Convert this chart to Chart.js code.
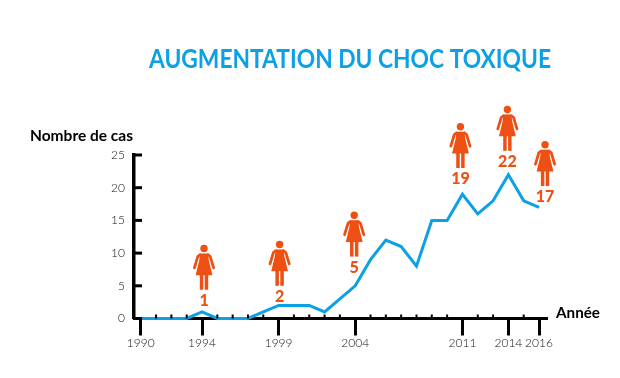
<!DOCTYPE html>
<html lang="fr">
<head>
  <meta charset="UTF-8" />
  <title>Augmentation du choc toxique</title>
  <script src="https://cdn.jsdelivr.net/npm/chart.js"></script>
  <style>
    body { margin: 0; background: #fff; }
    canvas { display: block; }
  </style>
</head>
<body>
  <canvas id="chocChart" width="620" height="378"></canvas>

  <script>
    const years = [1990, 1991, 1992, 1993, 1994, 1995, 1996, 1997, 1998, 1999, 2000, 2001, 2002,
      2003, 2004, 2005, 2006, 2007, 2008, 2009, 2010, 2011, 2012, 2013, 2014, 2015, 2016];
    const cases = [0, 0, 0, 0, 1, 0, 0, 0, 1, 2, 2, 2, 1, 3, 5, 9, 12, 11, 8, 15, 15, 19, 16, 18, 22, 18, 17];
    const tickYears = [1990, 1994, 1999, 2004, 2011, 2014, 2016];
    const calloutYears = [1994, 1999, 2004, 2011, 2014, 2016];
    const calloutCounts = [1, 2, 5, 19, 22, 17];

    const BLUE = '#0ca0e4';
    const ORANGE = '#ee4f12';
    const INK = '#000';

    // little woman pictogram, origin at the centre of the head
    function drawWoman(ctx, x, y) {
      ctx.save();
      ctx.translate(x, y);
      ctx.fillStyle = ORANGE;
      ctx.strokeStyle = ORANGE;
      ctx.beginPath();
      ctx.arc(0, 0, 3.7, 0, Math.PI * 2);
      ctx.fill();
      ctx.beginPath();
      ctx.moveTo(-4, 5);
      ctx.lineTo(4, 5);
      ctx.lineTo(4.8, 12);
      ctx.lineTo(8.4, 26.7);
      ctx.lineTo(-8.4, 26.7);
      ctx.lineTo(-4.8, 12);
      ctx.closePath();
      ctx.fill();
      ctx.fillRect(-4.2, 26, 3.5, 15.3);
      ctx.fillRect(0.7, 26, 3.5, 15.3);
      ctx.lineWidth = 2.8;
      ctx.lineCap = 'round';
      [-1, 1].forEach(side => {
        ctx.beginPath();
        ctx.moveTo(side * 4, 6.2);
        ctx.lineTo(side * 6.2, 8);
        ctx.lineTo(side * 9.6, 19.4);
        ctx.stroke();
      });
      ctx.restore();
    }

    const annotations = {
      id: 'annotations',
      afterDatasetsDraw(chart) {
        const { ctx, scales: { x, y }, chartArea } = chart;

        // axis ticks that the scales cannot draw inward
        ctx.save();
        ctx.fillStyle = INK;
        y.ticks.forEach(t => {
          ctx.fillRect(chartArea.left, y.getPixelForValue(t.value) - 1.5, 8, 3);
        });
        years.forEach(yr => {
          if (!tickYears.includes(yr)) {
            ctx.fillRect(x.getPixelForValue(yr) - 1, chartArea.bottom - 4, 2, 4);
          }
        });

        // pictograms and their counts, floated above the curve
        const shiftX = [2, 1, -1, -2, -1, 6];
        const lift = [11, 8.4, 18, 15, 12.6, 10];
        ctx.textAlign = 'center';
        ctx.textBaseline = 'middle';
        calloutYears.forEach((yr, i) => {
          const px = x.getPixelForValue(yr) + shiftX[i];
          const py = y.getPixelForValue(cases[years.indexOf(yr)]) - lift[i];
          drawWoman(ctx, px, py - 52.5);
          ctx.fillStyle = ORANGE;
          ctx.font = '900 16px Lato';
          ctx.fillText(String(calloutCounts[i]), px, py);
        });

        ctx.textAlign = 'left';
        ctx.fillStyle = INK;
        ctx.font = 'bold 15.5px Lato';
        ctx.fillText('Nombre de cas', 30, 136, 103);
        ctx.fillText('Année', 556, 313, 44);

        ctx.fillStyle = BLUE;
        ctx.font = 'bold 26px Lato';
        ctx.fillText('AUGMENTATION DU CHOC TOXIQUE', 149, 60, 402);
        ctx.restore();
      }
    };

    new Chart(document.getElementById('chocChart'), {
      type: 'line',
      data: {
        labels: years,
        datasets: [{
          data: years.map((yr, i) => ({ x: yr, y: cases[i] })),
          borderColor: BLUE,
          borderWidth: 3,
          pointRadius: 0,
          tension: 0,
          clip: false
        }]
      },
      plugins: [annotations],
      options: {
        responsive: false,
        animation: false,
        layout: { padding: { top: 155, right: 73 } },
        plugins: { legend: { display: false }, tooltip: { enabled: false } },
        scales: {
          x: {
            type: 'linear',
            min: 1989.56,
            max: 2016.52,
            afterBuildTicks: s => { s.ticks = tickYears.map(v => ({ value: v })); },
            afterFit: s => { s.height = 59.5; },
            border: { color: INK, width: 3 },
            grid: { drawOnChartArea: false, tickLength: 17, tickWidth: 3, tickColor: INK },
            ticks: {
              autoSkip: false,
              maxRotation: 0,
              padding: 0,
              color: '#111',
              font: { family: 'Lato', size: 12, weight: 300 },
              callback: v => String(v)
            }
          },
          y: {
            min: 0,
            max: 25,
            afterFit: s => { s.width = 134; },
            border: { color: INK, width: 3.5 },
            grid: { display: false },
            ticks: {
              stepSize: 5,
              padding: 1,
              color: '#111',
              font: { family: 'Lato', size: 12, weight: 300 }
            }
          }
        }
      }
    });
  </script>
</body>
</html>
